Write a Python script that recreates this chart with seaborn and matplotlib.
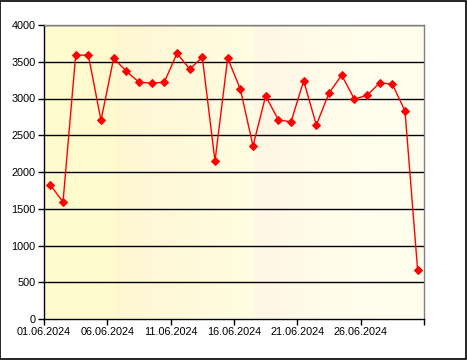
import numpy as np
import pandas as pd
import matplotlib
matplotlib.use("Agg")
import matplotlib.pyplot as plt
import seaborn as sns
from matplotlib.colors import LinearSegmentedColormap
from matplotlib.patches import Rectangle

days = list(range(1, 31))
values = [1825, 1590, 3590, 3590, 2703, 3548, 3370, 3222, 3208, 3222,
          3615, 3400, 3560, 2148, 3548, 3128, 2355, 3033, 2710, 2682,
          3240, 2640, 3073, 3318, 2993, 3042, 3213, 3196, 2830, 660]
tick_labels = ["01.06.2024", "06.06.2024", "11.06.2024", "16.06.2024",
               "21.06.2024", "26.06.2024", ""]

df = pd.DataFrame({"x": [d - 0.5 for d in days], "y": values})

sns.set_theme(style="white")
plt.rcParams['font.family'] = ['Liberation Sans', 'DejaVu Sans']

fig = plt.figure(figsize=(4.67, 3.6), dpi=100)
fig.patch.set_facecolor("white")
fig.patches.append(Rectangle((0.001, 0.002), 0.996, 0.995, transform=fig.transFigure,
                             fill=False, edgecolor="black", linewidth=1.2))
ax = fig.add_axes([44/467, 1-319/360, 380/467, 294/360])

# background gradient
stops = [(0.0, "#FFFBCE"), (0.185, "#FFFBCE"), (0.19, "#FFF6D2"), (0.27, "#FFF7D6"),
         (0.55, "#FFFDE2"), (0.555, "#FFF6E4"), (0.6, "#FFF7E6"), (0.75, "#FFFDEA"),
         (1.0, "#FFFFEE")]
cmap = LinearSegmentedColormap.from_list("bg", stops)
grad = np.linspace(0, 1, 400).reshape(1, -1)
ax.imshow(grad, aspect="auto", cmap=cmap, extent=[0, 30, 0, 4000], zorder=0)

sns.lineplot(data=df, x="x", y="y", ax=ax, color="#FF0000", linewidth=1.0,
             marker="D", markersize=4.2, markeredgecolor="#FF0000", zorder=3)

ax.set_xlim(0, 30)
ax.set_ylim(0, 4000)
ax.set_yticks(range(0, 4001, 500))
ax.set_xticks(range(0, 31, 5))
ax.set_xticklabels(tick_labels)
ax.set_xlabel("")
ax.set_ylabel("")
for yv in range(500, 4001, 500):
    ax.axhline(yv, color="black", linewidth=1.0, zorder=2)
ax.tick_params(axis="both", labelsize=7.8, colors="black", length=4, width=1,
               direction="out", pad=2)
ax.tick_params(axis="x", bottom=True)
ax.tick_params(axis="y", left=True)
for s in ["left", "bottom"]:
    ax.spines[s].set_color("black")
    ax.spines[s].set_linewidth(1.0)
for s in ["top", "right"]:
    ax.spines[s].set_color("#808080")
    ax.spines[s].set_linewidth(1.0)

fig.savefig("out.png", dpi=100)
